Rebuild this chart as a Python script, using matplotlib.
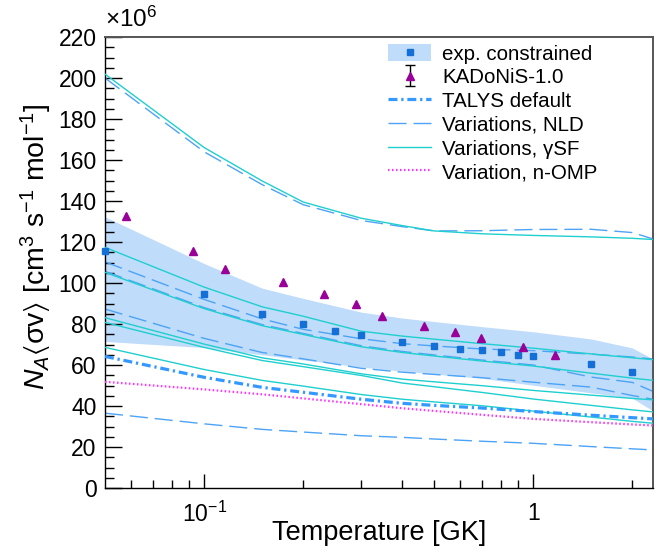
import numpy as np
import matplotlib
matplotlib.use('Agg')
import matplotlib.pyplot as plt
from matplotlib.patches import Patch
from matplotlib.lines import Line2D
from matplotlib.ticker import FixedLocator, MultipleLocator, NullFormatter

plt.rcParams['font.family'] = ['Liberation Sans', 'DejaVu Sans']
plt.rcParams['mathtext.fontset'] = 'custom'
plt.rcParams['mathtext.rm'] = 'Liberation Sans'
plt.rcParams['mathtext.it'] = 'Liberation Sans:italic'
plt.rcParams['mathtext.sf'] = 'Liberation Sans'
plt.rcParams['mathtext.fallback'] = 'stixsans'

# temperature grid of the rate curves (GK), values in units of 1e6
T_grid = [0.05, 0.1, 0.15, 0.2, 0.3, 0.4, 0.5, 0.7, 1.0, 1.5, 2.0, 2.5]

band_lo = [71.5, 68.5, 65.0, 62.5, 59.0, 57.0, 55.6, 53.5, 50.1, 46.4, 43.8, 34.2]
band_hi = [132.3, 109.5, 97.5, 92.5, 85.8, 82.9, 81.2, 78.7, 76.2, 72.7, 68.3, 60.0]

talys = [64.2, 54.0, 49.1, 46.7, 43.3, 41.3, 40.3, 39.0, 37.3, 35.5, 34.3, 33.4]
omp = [51.8, 48.1, 45.7, 43.7, 40.9, 38.9, 37.6, 35.7, 33.7, 32.1, 31.0, 30.2]

nld_1 = [200.0, 164.0, 148.0, 138.2, 130.5, 127.5, 125.4, 125.5, 126.1, 126.2, 124.6, 119.8]
nld_2 = [110.3, 92.0, 82.5, 77.4, 72.8, 70.4, 69.3, 67.8, 67.0, 65.3, 63.9, 62.4]
nld_3 = [105.7, 88.0, 79.7, 75.4, 69.4, 66.6, 64.9, 62.4, 60.0, 54.1, 51.5, 44.7]
nld_4 = [87.3, 73.0, 66.1, 63.0, 58.4, 56.5, 55.4, 53.8, 51.6, 49.2, 45.1, 42.3]
nld_5 = [36.5, 31.3, 28.6, 27.3, 25.5, 24.7, 23.9, 22.8, 21.8, 20.2, 19.1, 18.3]

gsf_1 = [201.9, 166.1, 149.8, 139.5, 131.6, 128.0, 125.4, 124.0, 123.2, 122.5, 121.8, 120.9]
gsf_2 = [117.4, 98.0, 88.4, 83.8, 76.5, 74.1, 72.6, 70.4, 68.2, 65.4, 63.5, 62.1]
gsf_3 = [105.2, 87.5, 79.2, 74.9, 68.9, 66.1, 64.4, 61.9, 59.5, 56.0, 53.6, 51.9]
gsf_4 = [83.1, 70.2, 63.5, 60.5, 55.7, 53.1, 51.8, 49.9, 47.6, 45.3, 43.7, 42.6]
gsf_5 = [80.8, 68.6, 62.2, 59.2, 54.9, 51.2, 49.4, 46.6, 43.4, 40.3, 38.1, 36.6]
gsf_6 = [68.6, 57.8, 52.5, 49.7, 45.6, 43.3, 42.0, 40.1, 37.5, 34.6, 32.5, 31.1]

exp_T = [0.05, 0.1, 0.15, 0.2, 0.25, 0.3, 0.4, 0.5, 0.6, 0.7, 0.8, 0.9, 1.0, 1.5, 2.0]
exp_rate = [115.6, 94.4, 84.7, 79.8, 76.4, 74.4, 71.0, 69.5, 67.9, 67.1, 66.1,
            65.0, 64.5, 60.6, 56.4]

kad_T = [0.058, 0.0928, 0.116, 0.174, 0.232, 0.290, 0.348, 0.464, 0.580, 0.696,
         0.928, 1.160]
kad_rate = [132.8, 115.8, 106.7, 100.7, 94.8, 89.9, 84.0, 78.9, 76.1, 73.0, 68.9, 64.8]

c_band = '#bfdcfa'
c_exp = '#1470d6'
c_kad = '#990099'
c_gsf = '#1fcfcf'
c_nld = '#4da3f5'
c_talys = '#3399ff'
c_omp = '#ff33ff'

nld_ls = (0, (13, 5))
talys_ls = (0, (2.8, 1.2, 0.7, 1.2))
omp_ls = (0, (0.7, 1.1))

fig = plt.figure(figsize=(6.67, 5.54), dpi=100)
ax = fig.add_axes([105 / 667, 1 - 488 / 554, 548 / 667, 451 / 554])

ax.fill_between(T_grid, band_lo, band_hi, color=c_band, lw=0, zorder=1)

for v in (nld_1, nld_2, nld_3, nld_4, nld_5):
    ax.plot(T_grid, v, color=c_nld, lw=1.0, ls=nld_ls, zorder=2)
for v in (gsf_1, gsf_2, gsf_3, gsf_4, gsf_5, gsf_6):
    ax.plot(T_grid, v, color=c_gsf, lw=1.0, zorder=3)
ax.plot(T_grid, talys, color=c_talys, lw=2.3, ls=talys_ls, zorder=4)
ax.plot(T_grid, omp, color=c_omp, lw=1.6, ls=omp_ls, zorder=4)

ax.plot(exp_T, exp_rate, ls='none', marker='s', ms=4.3, color=c_exp,
        mec=c_exp, zorder=6, clip_on=False)
ax.plot(kad_T, kad_rate, ls='none', marker='^', ms=6.2, color=c_kad,
        mec=c_kad, zorder=6)

ax.set_xscale('log')
ax.set_xlim(0.05, 2.31)
ax.set_ylim(0, 220)

ax.xaxis.set_major_locator(FixedLocator([0.1, 1.0]))
ax.set_xticklabels([r'$10^{-1}$', '1'])
ax.xaxis.set_minor_locator(FixedLocator([0.06, 0.07, 0.08, 0.09, 0.2, 0.3, 0.4,
                                         0.5, 0.6, 0.7, 0.8, 0.9, 2.0]))
ax.xaxis.set_minor_formatter(NullFormatter())
ax.yaxis.set_major_locator(MultipleLocator(20))
ax.yaxis.set_minor_locator(MultipleLocator(5))

ax.tick_params(which='both', direction='in', top=False, right=False,
               labelsize=16.5, width=1.0, color='black')
ax.tick_params(axis='x', which='major', length=10, pad=10)
ax.tick_params(axis='x', which='minor', length=6)
ax.tick_params(axis='y', which='major', length=12, pad=6)
ax.tick_params(axis='y', which='minor', length=6.5)

for s in ('left', 'bottom'):
    ax.spines[s].set_color('black')
    ax.spines[s].set_linewidth(1.0)
for s in ('top', 'right'):
    ax.spines[s].set_color('#555555')
    ax.spines[s].set_linewidth(1.4)

ax.set_xlabel('Temperature [GK]', fontsize=19.5)
ax.xaxis.set_label_coords(0.5, -0.072)
ax.set_ylabel(r'$N_{A}\langle\mathrm{\sigma v}\rangle$ [cm$^{3}$ s$^{-1}$ mol$^{-1}$]',
              fontsize=20.5)
ax.yaxis.set_label_coords(-0.093, 0.535)
ax.text(0.0, 1.012, r'$\times$10$^{6}$', transform=ax.transAxes,
        fontsize=17.5, ha='left', va='bottom')

# legend
h_exp = (Patch(facecolor=c_band, edgecolor='none'),
         Line2D([], [], ls='none', marker='s', ms=4.3, color=c_exp))
h_kad = ax.errorbar([np.nan], [np.nan], yerr=[1.0], ls='none', marker='^', ms=5.5,
                    color=c_kad, ecolor='black', elinewidth=1.0, capsize=3.5)
h_talys = Line2D([], [], color=c_talys, lw=2.3, ls=talys_ls)
h_nld = Line2D([], [], color=c_nld, lw=1.0, ls=nld_ls)
h_gsf = Line2D([], [], color=c_gsf, lw=1.0)
h_omp = Line2D([], [], color=c_omp, lw=1.6, ls=omp_ls)

fig.legend([h_exp, h_kad, h_talys, h_nld, h_gsf, h_omp],
           ['exp. constrained', 'KADoNiS-1.0', 'TALYS default',
            'Variations, NLD', 'Variations, \u03b3SF', 'Variation, n-OMP'],
           loc='upper left', bbox_to_anchor=(388 / 667, 1 - 44 / 554),
           frameon=False, fontsize=14.8, handlelength=2.1, handleheight=0.9,
           handletextpad=0.55, labelspacing=0.2, borderaxespad=0, borderpad=0)

fig.savefig('out.png', dpi=100)
